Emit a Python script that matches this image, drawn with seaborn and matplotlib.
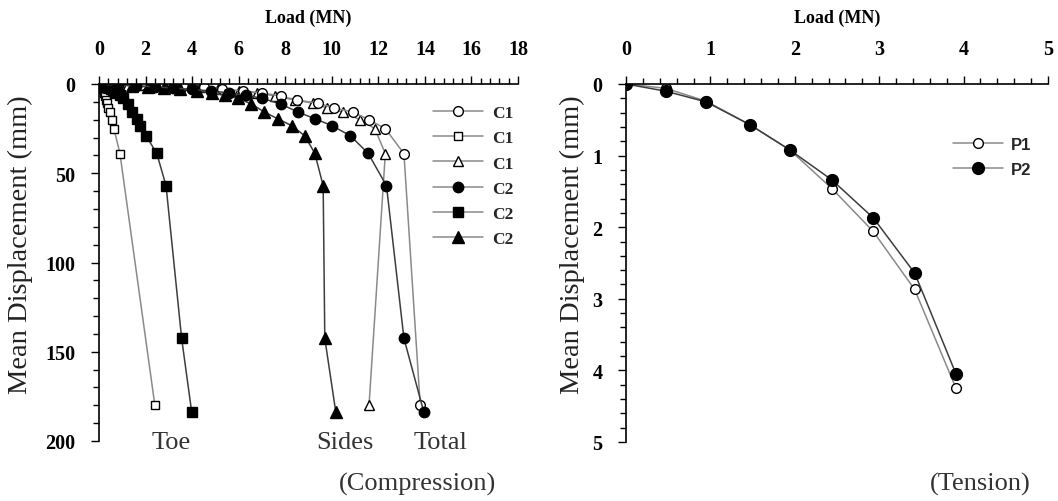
import matplotlib
matplotlib.use("Agg")
import matplotlib.pyplot as plt
import seaborn as sns
import pandas as pd
from matplotlib.ticker import MultipleLocator
from matplotlib.lines import Line2D

# ---- Compression test: load (MN) vs mean displacement (mm) ----
c1_disp = [0, 0.3, 0.6, 0.9, 1.3, 1.8, 2.8, 3.9, 5.0, 6.7, 9.0, 10.7, 13.4, 15.7, 20, 25, 39, 180]
c1_total = [0, 0.9, 1.8, 2.7, 3.6, 4.5, 5.3, 6.2, 7.0, 7.8, 8.5, 9.4, 10.1, 10.9, 11.6, 12.3, 13.1, 13.8]
c1_toe = [0, 0.03, 0.06, 0.09, 0.12, 0.15, 0.17, 0.2, 0.22, 0.25, 0.3, 0.34, 0.39, 0.47, 0.56, 0.64, 0.9, 2.4]
c1_sides = [0, 0.87, 1.74, 2.6, 3.5, 4.35, 5.1, 6.0, 6.8, 7.55, 8.4, 9.2, 9.8, 10.5, 11.2, 11.85, 12.3, 11.6]

c2_disp = [0, 0.5, 1.0, 1.6, 2.3, 3.0, 3.9, 5.0, 6.3, 8.0, 11.2, 15.7, 19.6, 23.3, 29, 38.8, 57, 142.5, 183.6]
c2_total = [0, 0.8, 1.6, 2.4, 3.2, 4.0, 4.8, 5.6, 6.3, 7.0, 7.8, 8.55, 9.3, 10.0, 10.8, 11.56, 12.35, 13.1, 13.95]
c2_toe = [0, 0.1, 0.2, 0.3, 0.4, 0.5, 0.6, 0.75, 0.9, 1.04, 1.26, 1.4, 1.62, 1.76, 2.02, 2.48, 2.88, 3.55, 3.98]
c2_sides = [0, 0.7, 1.4, 2.1, 2.8, 3.5, 4.2, 4.85, 5.4, 5.96, 6.55, 7.1, 7.7, 8.27, 8.84, 9.27, 9.63, 9.7, 10.17]

# ---- Tension test ----
p_load = [0, 0.47, 0.95, 1.47, 1.94, 2.44, 2.93, 3.42, 3.91]
p1_disp = [0, 0.06, 0.24, 0.57, 0.92, 1.46, 2.06, 2.87, 4.25]
p2_disp = [0, 0.10, 0.25, 0.57, 0.92, 1.34, 1.87, 2.64, 4.05]

left_xticks = [0, 2, 4, 6, 8, 10, 12, 14, 16, 18]
left_yticks = [0, 50, 100, 150, 200]
right_xticks = [0, 1, 2, 3, 4, 5]
right_yticks = [0, 1, 2, 3, 4, 5]

LIGHT = "#8a8a8a"
DARK = "#3d3d3d"

sns.set_theme(style="white")
plt.rcParams["font.family"] = ["Liberation Serif", "DejaVu Serif"]

W, H = 1058, 502
fig = plt.figure(figsize=(W / 100, H / 100), dpi=100)


def fx(x):
    return x / W


def fy(y):
    return 1 - y / H


axL = fig.add_axes([fx(99), fy(442), (518 - 99) / W, (442 - 85) / H])
axR = fig.add_axes([fx(626), fy(443), (1048 - 626) / W, (443 - 85) / H])


def draw(ax, x, y, marker, color, filled, ms):
    df = pd.DataFrame({"load": x, "disp": y})
    sns.lineplot(data=df, x="load", y="disp", sort=False, estimator=None, ax=ax,
                 color=color, linewidth=1.1, marker=marker, markersize=ms,
                 markerfacecolor="black" if filled else "white",
                 markeredgecolor="black", markeredgewidth=1.0)


# left panel series
draw(axL, c1_toe, c1_disp, "s", LIGHT, False, 6.0)
draw(axL, c1_sides, c1_disp, "^", LIGHT, False, 7.0)
draw(axL, c1_total, c1_disp, "o", LIGHT, False, 7.0)
draw(axL, c2_toe, c2_disp, "s", DARK, True, 6.5)
draw(axL, c2_sides, c2_disp, "^", DARK, True, 8.0)
draw(axL, c2_total, c2_disp, "o", DARK, True, 7.5)

# right panel series
draw(axR, p_load, p1_disp, "o", LIGHT, False, 7.0)
draw(axR, p_load, p2_disp, "o", DARK, True, 8.5)


def style_axes(ax, xlim, ylim, xt, yt, xminor, yminor):
    ax.set_xlim(*xlim)
    ax.set_ylim(*ylim)
    ax.set_xticks(xt)
    ax.set_yticks(yt)
    ax.set_xticklabels([str(v) for v in xt], fontweight="bold")
    ax.set_yticklabels([str(v) for v in yt], fontweight="bold")
    ax.xaxis.set_minor_locator(MultipleLocator(xminor))
    ax.yaxis.set_minor_locator(MultipleLocator(yminor))
    ax.xaxis.tick_top()
    ax.tick_params(which="both", top=True, left=True, bottom=False, right=False,
                   labeltop=True, labelbottom=False, direction="out",
                   color="black", width=1.0, labelsize=14.5, labelcolor="black")
    ax.tick_params(axis="x", which="major", length=6, pad=12)
    ax.tick_params(axis="x", which="minor", length=4)
    ax.tick_params(axis="y", which="major", length=6, pad=11)
    ax.tick_params(axis="y", which="minor", length=4)
    for s in ("right", "bottom"):
        ax.spines[s].set_visible(False)
    for s in ("left", "top"):
        ax.spines[s].set_color("black")
        ax.spines[s].set_linewidth(1.2)
    ax.set_xlabel("")
    ax.set_ylabel("")
    ax.set_facecolor("white")
    ax.grid(False)


style_axes(axL, (0, 18), (200, 0), left_xticks, left_yticks, 0.4, 10)
style_axes(axR, (0, 5), (5, 0), right_xticks, right_yticks, 0.2, 0.2)

# axis titles
for cx in (308, 837):
    fig.text(fx(cx), fy(18), "Load (MN)", ha="center", va="center",
             fontsize=13, fontweight="bold", color="black")
for cx in (20, 572):
    fig.text(fx(cx), fy(245), "Mean Displacement (mm)", ha="center", va="center",
             rotation=90, fontsize=20.5, color="#222222")

# curve annotations
for txt, x in (("Toe", 171), ("Sides", 345), ("Total", 441)):
    fig.text(fx(x), fy(443), txt, ha="center", va="center", fontsize=19, color="#333333")
fig.text(fx(418), fy(484), "(Compression)", ha="center", va="center", fontsize=19, color="#333333")
fig.text(fx(980), fy(484), "(Tension)", ha="center", va="center", fontsize=19, color="#333333")

# legends
legL_items = [("o", False, 7.0, "C1"), ("s", False, 6.0, "C1"), ("^", False, 7.0, "C1"),
              ("o", True, 7.5, "C2"), ("s", True, 6.5, "C2"), ("^", True, 8.0, "C2")]
handles = [Line2D([], [], color=LIGHT, lw=1.1, marker=m, markersize=ms,
                  markerfacecolor="black" if f else "white", markeredgecolor="black")
           for m, f, ms, _ in legL_items]
fig.legend(handles, [t for *_, t in legL_items], loc="upper left",
           bbox_to_anchor=(fx(433), fy(106)), frameon=False, handlelength=2.9,
           handletextpad=0.5, labelspacing=0.52, borderpad=0, borderaxespad=0,
           prop={"family": "Liberation Serif", "weight": "bold", "size": 12.5})

handlesR = [Line2D([], [], color=LIGHT, lw=1.1, marker="o", markersize=7,
                   markerfacecolor="white", markeredgecolor="black"),
            Line2D([], [], color=LIGHT, lw=1.1, marker="o", markersize=8.5,
                   markerfacecolor="black", markeredgecolor="black")]
fig.legend(handlesR, ["P1", "P2"], loc="upper left",
           bbox_to_anchor=(fx(953), fy(138)), frameon=False, handlelength=3.0,
           handletextpad=0.5, labelspacing=0.6, borderpad=0, borderaxespad=0,
           prop={"family": "Liberation Sans", "weight": "bold", "size": 12})

fig.savefig("out.png", dpi=100, facecolor="white")
